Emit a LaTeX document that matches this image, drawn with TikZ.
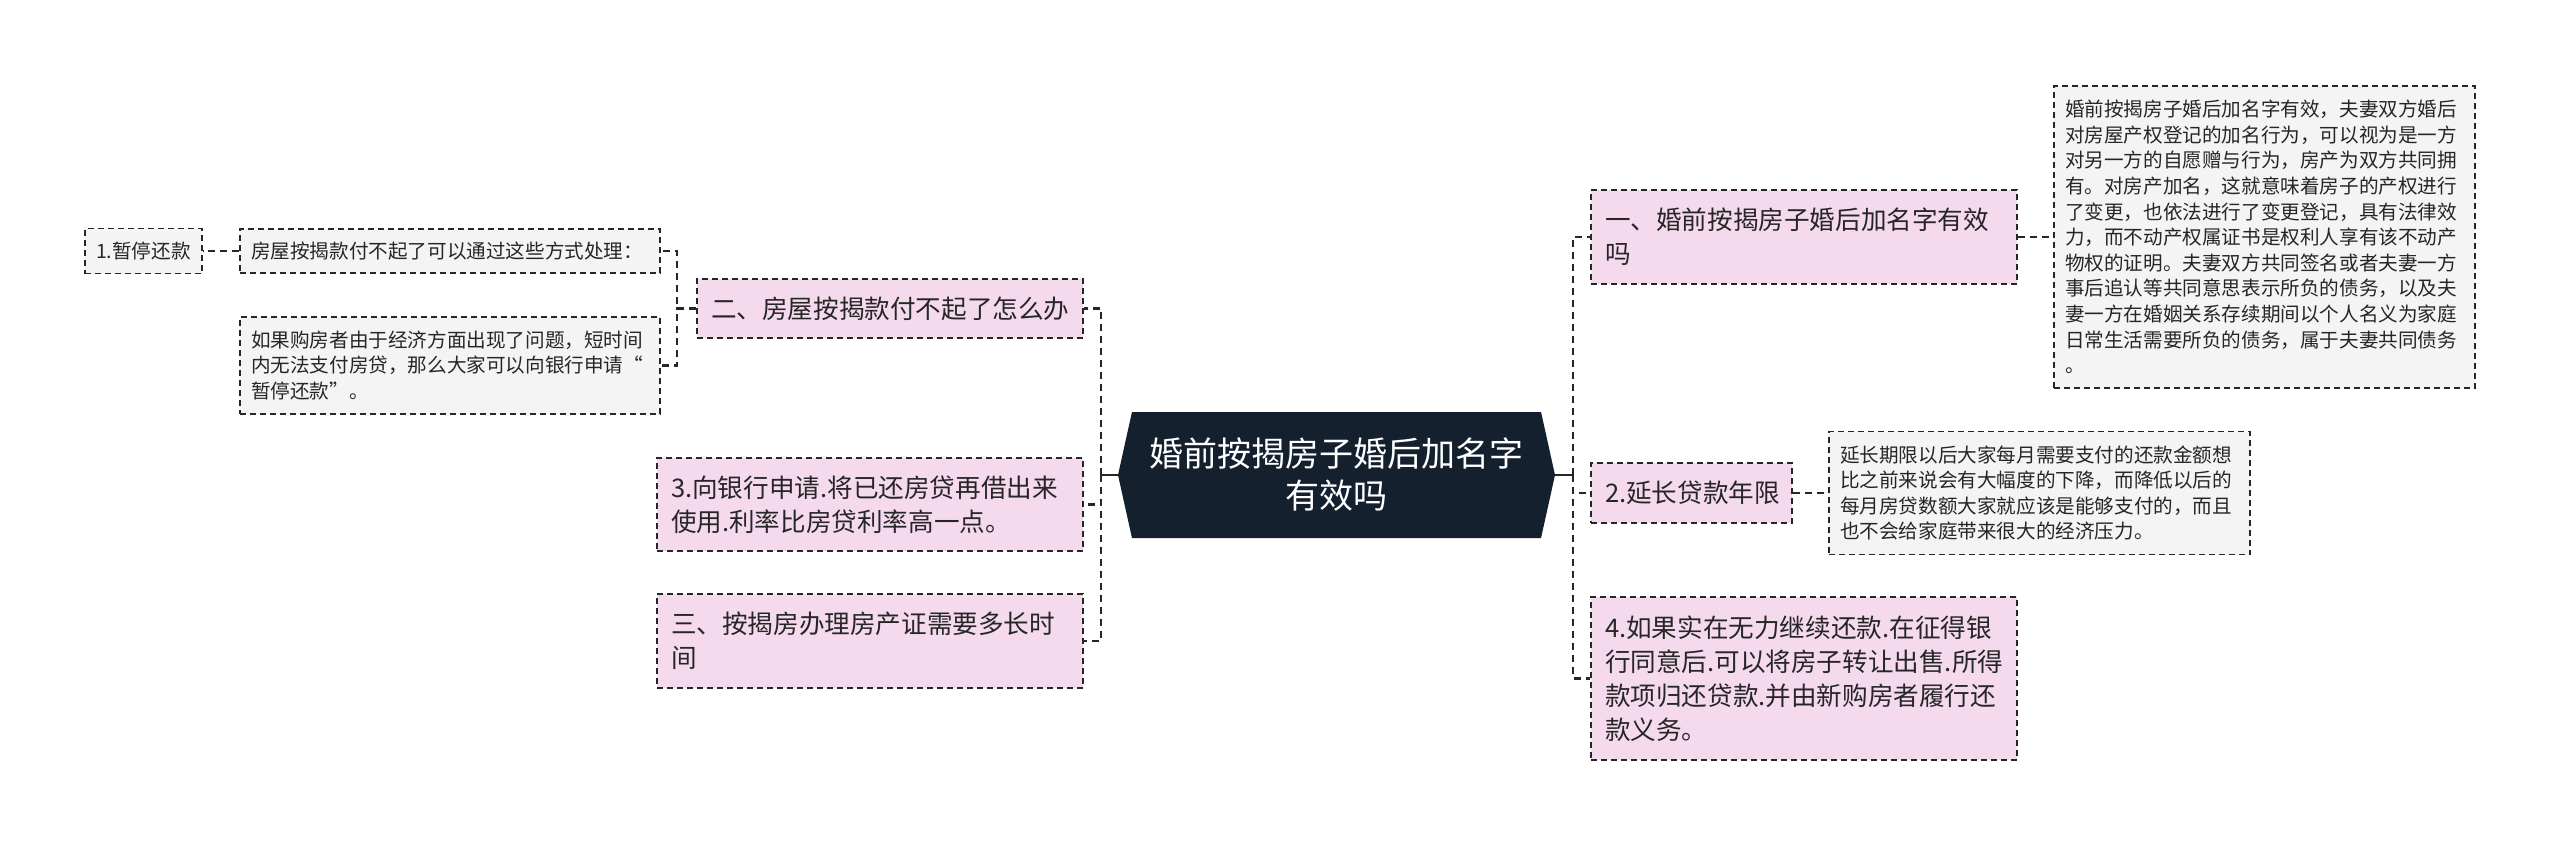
\documentclass[tikz,border=0pt]{standalone}
\usepackage{fontspec}
\setmainfont{Noto Sans CJK SC}
\usetikzlibrary{shapes.symbols}
\definecolor{NightNavy}{RGB}{20,32,46}
\definecolor{PaleRose}{RGB}{245,218,238}
\definecolor{MistGrey}{RGB}{244,244,244}
\definecolor{InkLine}{RGB}{38,38,38}

\begin{document}
\begin{tikzpicture}[x=1pt,y=-1pt,
  topic/.style={draw=InkLine,line width=1.6pt,dash pattern=on 6pt off 4pt,fill=PaleRose,
    align=left,inner xsep=14pt,inner ysep=0pt,text=black!85,font=\fontsize{25.6}{34}\selectfont},
  note/.style={draw=InkLine,line width=1.6pt,dash pattern=on 6pt off 4pt,fill=MistGrey,
    align=left,inner xsep=11pt,inner ysep=0pt,text=black!85,font=\fontsize{19.6}{25.6}\selectfont},
  link/.style={InkLine,line width=2.4pt,dash pattern=on 7pt off 5pt},
  stem/.style={InkLine,line width=2pt}]
  \useasboundingbox (0,0) rectangle (2560,846);

  % centre
  \node[signal,signal to=west and east,signal pointer angle=155,fill=NightNavy,text=white,
    align=center,inner sep=0pt,minimum width=437pt,minimum height=126pt,
    font=\fontsize{34}{42}\selectfont] (root) at (1336.5,475) {婚前按揭房子婚后加名字\\有效吗};
  \coordinate (hubL) at (1101,475);
  \coordinate (hubR) at (1573,475);

  % left side
  \node[topic,text width=358pt,minimum height=59pt] (erQ) at (890,308.5) {二、房屋按揭款付不起了怎么办};
  \node[topic,text width=398pt,minimum height=93pt] (shenqing) at (870,504.5) {3.向银行申请.将已还房贷再借出来\\使用.利率比房贷利率高一点。};
  \node[topic,text width=398pt,minimum height=94pt] (sanQ) at (870,641) {三、按揭房办理房产证需要多长时\\间};
  \node[note,text width=398pt,minimum height=44pt] (chuli) at (450,251) {房屋按揭款付不起了可以通过这些方式处理：};
  \node[note,text width=398pt,minimum height=97pt] (goufang) at (450,365.5) {如果购房者由于经济方面出现了问题，短时间\\内无法支付房贷，那么大家可以向银行申请“\\暂停还款”。};
  \node[note,text width=95pt,minimum height=45pt] (zanting) at (143.5,251) {1.暂停还款};

  % right side
  \node[topic,text width=398pt,minimum height=94pt] (yiQ) at (1804,237) {一、婚前按揭房子婚后加名字有效\\吗};
  \node[topic,text width=173pt,minimum height=60pt] (yanchang) at (1691.5,493) {2.延长贷款年限};
  \node[topic,text width=398pt,minimum height=163pt] (zhuanrang) at (1804,678.5) {4.如果实在无力继续还款.在征得银\\行同意后.可以将房子转让出售.所得\\款项归还贷款.并由新购房者履行还\\款义务。};
  \node[note,text width=399pt,minimum height=302pt] (yiNote) at (2264.5,237) {婚前按揭房子婚后加名字有效，夫妻双方婚后\\对房屋产权登记的加名行为，可以视为是一方\\对另一方的自愿赠与行为，房产为双方共同拥\\有。对房产加名，这就意味着房子的产权进行\\了变更，也依法进行了变更登记，具有法律效\\力，而不动产权属证书是权利人享有该不动产\\物权的证明。夫妻双方共同签名或者夫妻一方\\事后追认等共同意思表示所负的债务，以及夫\\妻一方在婚姻关系存续期间以个人名义为家庭\\日常生活需要所负的债务，属于夫妻共同债务\\。};
  \node[note,text width=399pt,minimum height=123pt] (yanNote) at (2039.5,493) {延长期限以后大家每月需要支付的还款金额想\\比之前来说会有大幅度的下降，而降低以后的\\每月房贷数额大家就应该是能够支付的，而且\\也不会给家庭带来很大的经济压力。};

  % connectors
  \draw[stem] (root.west) -- (hubL);
  \draw[stem] (root.east) -- (hubR);
  \foreach \n in {erQ,shenqing,sanQ}{\draw[link] (hubL) |- (\n.east);}
  \foreach \n in {yiQ,yanchang,zhuanrang}{\draw[link] (hubR) |- (\n.west);}
  \foreach \n in {chuli,goufang}{\draw[link] (erQ.west) -- ++(-19,0) |- (\n.east);}
  \draw[link] (chuli.west) -- (zanting.east);
  \draw[link] (yiQ.east) -- (yiNote.west);
  \draw[link] (yanchang.east) -- (yanNote.west);
\end{tikzpicture}
\end{document}
